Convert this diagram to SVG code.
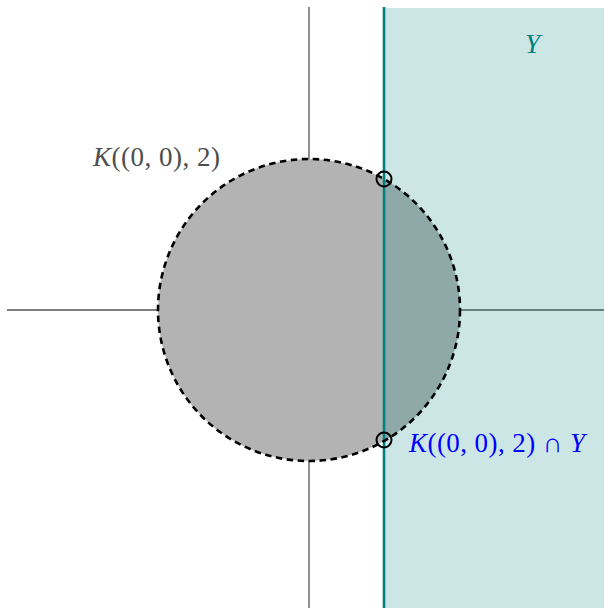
<svg xmlns="http://www.w3.org/2000/svg" width="604" height="608" viewBox="0 0 604 608">
<style>
.axis{stroke:#555;stroke-width:1.3;fill:none}
.lbl{font-family:"Liberation Serif","DejaVu Serif",serif;font-size:27px}
.it{font-style:italic}
.pt{fill:none;stroke:#000;stroke-width:2}
</style>
<rect width="604" height="608" fill="#fff"/>
<g id="axes">
<line class="axis" x1="7" y1="310" x2="604" y2="310"/>
<line class="axis" x1="309" y1="7" x2="309" y2="608"/>
</g>
<g id="disk">
<circle cx="309" cy="310" r="151" fill="#b3b3b3"/>
</g>
<g id="halfplane">
<rect x="384" y="8" width="220" height="600" fill="#008080" fill-opacity="0.2"/>
<line x1="384" y1="7" x2="384" y2="608" stroke="#008080" stroke-width="2.6"/>
</g>
<g id="disk-boundary">
<circle cx="309" cy="310" r="151" fill="none" stroke="#000" stroke-width="2.6" stroke-dasharray="6.5,4.5"/>
</g>
<g id="points">
<circle class="pt" cx="384" cy="179" r="7.5"/>
<circle class="pt" cx="384" cy="440" r="7.5"/>
</g>
<g id="labels">
<text class="lbl" x="93" y="166" fill="#4d4d4d" textLength="127" lengthAdjust="spacing"><tspan class="it">K</tspan>((0, 0), 2)</text>
<text class="lbl it" x="525" y="53" fill="#008080">Y</text>
<text class="lbl" x="409" y="452" fill="#0000ff" textLength="176" lengthAdjust="spacing"><tspan class="it">K</tspan>((0, 0), 2) ∩ <tspan class="it">Y</tspan></text>
</g>
</svg>
